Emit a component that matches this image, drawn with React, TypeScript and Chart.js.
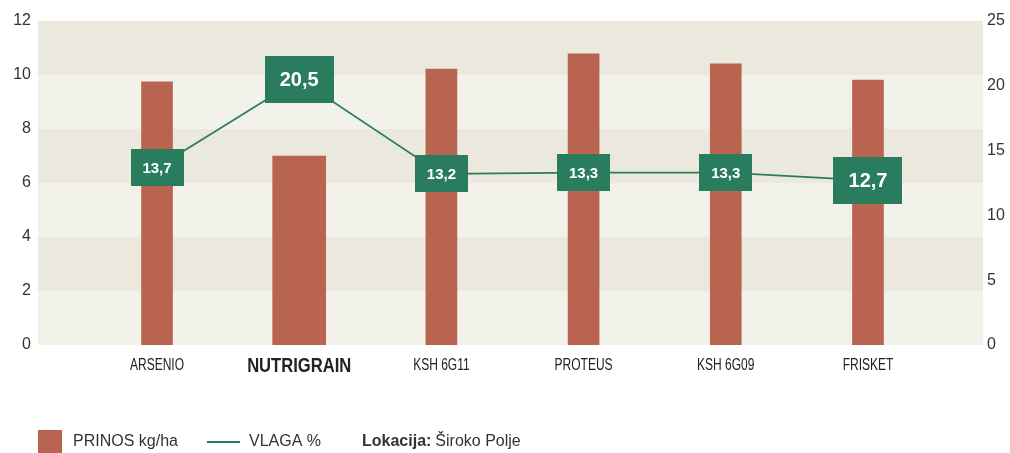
import React, { useEffect, useRef } from "react";
import { Chart, registerables } from "chart.js";

Chart.register(...registerables);

const categories = ["ARSENIO", "NUTRIGRAIN", "KSH 6G11", "PROTEUS", "KSH 6G09", "FRISKET"];
const prinos = [9.75, 7.0, 10.22, 10.78, 10.41, 9.81];
const vlaga = [13.7, 20.5, 13.2, 13.3, 13.3, 12.7];
const vlagaLabels = ["13,7", "20,5", "13,2", "13,3", "13,3", "12,7"];
const leftTicks = [0, 2, 4, 6, 8, 10, 12];
const rightTicks = [0, 5, 10, 15, 20, 25];
const highlighted = "NUTRIGRAIN";
const bigLabels = ["NUTRIGRAIN", "FRISKET"];
const locationLabel = "Lokacija:";
const locationValue = "Široko Polje";

const RED = "#B86450";
const GREEN = "#2A7C5F";
const FONT = "'Liberation Sans', Arial, sans-serif";

const hi = categories.indexOf(highlighted);

const bandsPlugin = {
  id: "bands",
  beforeDatasetsDraw(chart: any) {
    const { ctx, chartArea } = chart;
    const y = chart.scales.y;
    ctx.save();
    for (let i = 0; i < leftTicks.length - 1; i++) {
      const top = y.getPixelForValue(leftTicks[i + 1]);
      const bot = y.getPixelForValue(leftTicks[i]);
      ctx.fillStyle = i % 2 === 1 ? "#EBE8DD" : "#F3F2EA";
      ctx.fillRect(chartArea.left, top, chartArea.right - chartArea.left, bot - top);
    }
    ctx.restore();
  },
};

const boxPlugin = {
  id: "boxes",
  afterDatasetsDraw(chart: any) {
    const { ctx } = chart;
    const meta = chart.getDatasetMeta(0);
    ctx.save();
    meta.data.forEach((pt: any, i: number) => {
      const big = bigLabels.includes(categories[i]);
      const w = big ? 69 : 53;
      const h = big ? 47 : 37;
      ctx.fillStyle = GREEN;
      ctx.fillRect(Math.round(pt.x - w / 2), Math.round(pt.y - h / 2), w, h);
      ctx.fillStyle = "#FFFFFF";
      ctx.font = `bold ${big ? 20 : 15}px ${FONT}`;
      ctx.textAlign = "center";
      ctx.textBaseline = "middle";
      ctx.fillText(vlagaLabels[i], pt.x, pt.y + 1);
    });
    ctx.restore();
  },
  afterDraw(chart: any) {
    const { ctx } = chart;
    const ds = chart.data.datasets;
    const xs = chart.scales.x;
    ctx.save();
    // condensed category labels
    ctx.textBaseline = "middle";
    ctx.textAlign = "center";
    ctx.fillStyle = "#222222";
    categories.forEach((c, i) => {
      const x = xs.getPixelForValue(i);
      const isHi = i === hi;
      ctx.save();
      ctx.translate(x, 366);
      ctx.scale(isHi ? 0.79 : 0.75, 1);
      ctx.font = isHi ? `bold 21px ${FONT}` : `16px ${FONT}`;
      ctx.fillText(c, 0, 0);
      ctx.restore();
    });
    // legend
    ctx.textAlign = "left";
    const ly = 442;
    ctx.fillStyle = RED;
    ctx.fillRect(38, 430, 24, 23);
    ctx.fillStyle = "#333333";
    ctx.font = `16px ${FONT}`;
    ctx.fillText(ds[1].label, 73, ly);
    ctx.strokeStyle = GREEN;
    ctx.lineWidth = 2;
    ctx.beginPath();
    ctx.moveTo(207, ly);
    ctx.lineTo(240, ly);
    ctx.stroke();
    ctx.fillText(ds[0].label, 249, ly);
    ctx.font = `bold 16px ${FONT}`;
    ctx.fillText(locationLabel, 362, ly);
    const w = ctx.measureText(locationLabel).width;
    ctx.font = `16px ${FONT}`;
    ctx.fillText(locationValue, 362 + w + 4, ly);
    ctx.restore();
  },
};

export default function App() {
  const ref = useRef<HTMLCanvasElement>(null);
  useEffect(() => {
    if (!ref.current) return;
    const chart = new Chart(ref.current, {
      type: "bar",
      data: {
        datasets: [
          {
            type: "line",
            label: "VLAGA %",
            data: vlaga.map((v, i) => ({ x: i, y: v })),
            yAxisID: "y1",
            borderColor: GREEN,
            borderWidth: 1.8,
            pointRadius: 0,
            tension: 0,
            order: 0,
          } as any,
          {
            type: "bar",
            label: "PRINOS kg/ha",
            data: prinos.map((v, i) => ({ x: i, y: v })).filter((_, i) => i !== hi),
            yAxisID: "y",
            backgroundColor: RED,
            barThickness: 31,
            grouped: false,
            order: 1,
          } as any,
          {
            type: "bar",
            label: highlighted,
            data: [{ x: hi, y: prinos[hi] }],
            yAxisID: "y",
            backgroundColor: RED,
            barThickness: 53,
            grouped: false,
            order: 1,
          } as any,
        ],
      },
      options: {
        responsive: false,
        animation: false,
        layout: { padding: { top: 21, bottom: 0, left: 0, right: 0 } },
        plugins: { legend: { display: false }, tooltip: { enabled: false } },
        scales: {
          x: {
            type: "linear",
            offset: false,
            min: -0.837,
            max: 5.809,
            grid: { display: false },
            border: { display: false },
            afterFit: (s: any) => { s.height = 108; },
            afterBuildTicks: (s: any) => {
              s.ticks = categories.map((_, i) => ({ value: i }));
            },
            ticks: { display: false },
          },
          y: {
            position: "left",
            min: 0,
            max: 12,
            grid: { display: false, drawTicks: false },
            border: { display: false },
            afterFit: (s: any) => { s.width = 38; },
            afterBuildTicks: (s: any) => { s.ticks = leftTicks.map((v) => ({ value: v })); },
            ticks: { padding: 7, color: "#333333", font: { family: FONT, size: 16 } },
          },
          y1: {
            position: "right",
            min: 0,
            max: 25,
            grid: { display: false, drawTicks: false },
            border: { display: false },
            afterFit: (s: any) => { s.width = 27; },
            afterBuildTicks: (s: any) => { s.ticks = rightTicks.map((v) => ({ value: v })); },
            ticks: { padding: 4, color: "#333333", font: { family: FONT, size: 16 } },
          },
        },
      },
      plugins: [bandsPlugin, boxPlugin],
    } as any);
    return () => chart.destroy();
  }, []);
  return (
    <div style={{ position: "absolute", left: 0, top: 0, width: 1010, height: 453, background: "#fff" }}>
      <canvas ref={ref} width={1010} height={453} />
    </div>
  );
}
